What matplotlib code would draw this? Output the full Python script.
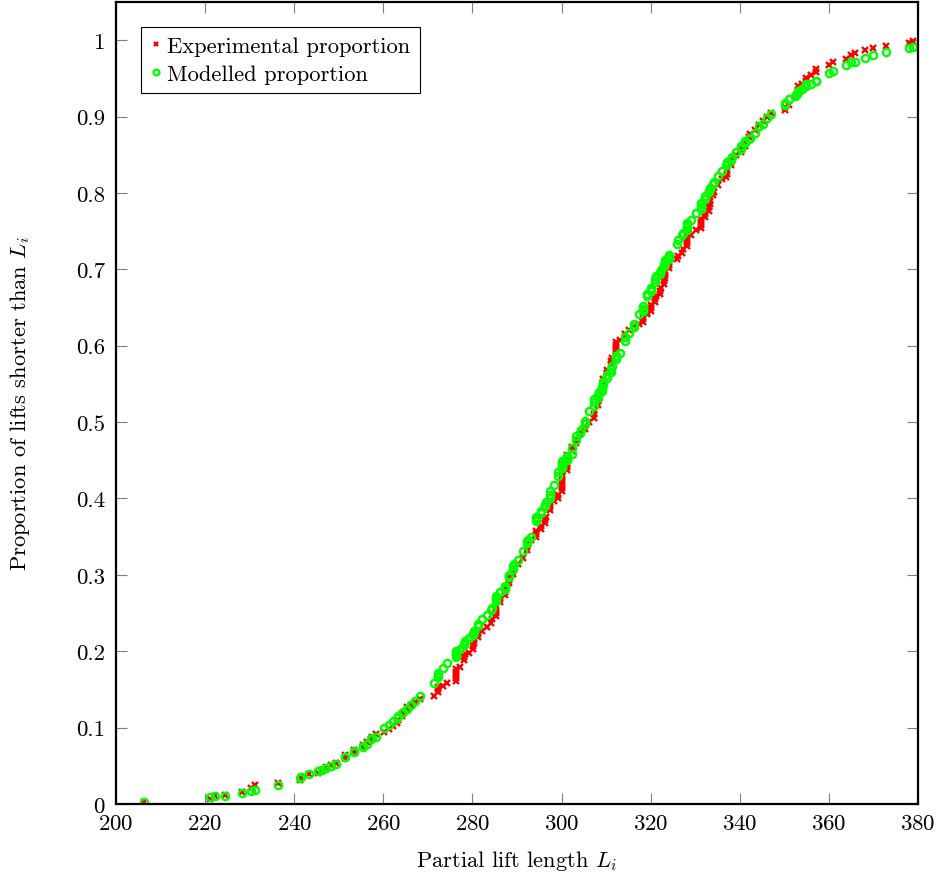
import matplotlib
matplotlib.use("Agg")
import matplotlib.pyplot as plt
from matplotlib.ticker import FuncFormatter

plt.rcParams['font.family'] = ['cmr10', 'DejaVu Serif']
plt.rcParams['mathtext.fontset'] = 'cm'
plt.rcParams['axes.formatter.use_mathtext'] = True

# partial lift lengths L_i (sorted), shared by both series
lift_length = [
    206.3, 221.2, 222.3, 224.4, 228.2, 230.3, 231.2, 236.3, 241.4, 241.6,
    243.3, 245.3, 246.2, 247.2, 248.2, 249.3, 251.4, 251.4, 253.4, 253.4,
    255.4, 255.4, 256.4, 257.3, 257.4, 258.4, 260.2, 261.3, 262.2, 263.1,
    263.3, 264.2, 264.3, 265.2, 265.3, 266.2, 267.2, 268.2, 271.3, 272.2,
    272.2, 272.3, 273.3, 274.2, 276.3, 276.3, 276.3, 276.4, 276.4, 277.2,
    278.2, 278.2, 278.3, 279.2, 280.2, 280.2, 280.3, 280.3, 281.2, 281.2,
    282.2, 283.2, 284.2, 284.3, 285.2, 285.2, 285.2, 285.3, 286.2, 286.2,
    287.2, 287.2, 287.3, 288.2, 288.2, 288.3, 289.2, 289.2, 289.3, 290.3,
    291.4, 292.3, 292.3, 292.4, 293.2, 294.2, 294.2, 294.3, 295.3, 295.3,
    296.3, 296.3, 296.4, 297.3, 297.3, 297.4, 298.2, 299.1, 299.2, 300.1,
    300.1, 300.1, 300.1, 300.2, 300.2, 300.2, 301.2, 301.2, 301.2, 301.2,
    301.3, 301.3, 302.3, 302.4, 303.2, 303.3, 304.2, 304.3, 305.2, 305.3,
    306.2, 307.2, 307.2, 307.3, 308.2, 308.2, 308.3, 309.1, 309.1, 309.2,
    309.2, 309.2, 310.1, 310.2, 311.2, 311.2, 311.3, 312.1, 312.1, 312.2,
    312.2, 312.2, 313.2, 314.2, 314.3, 315.2, 316.2, 316.3, 317.3, 318.2,
    318.2, 318.3, 319.1, 319.2, 320.0, 320.1, 320.1, 321.0, 321.0, 321.1,
    322.1, 322.1, 322.2, 323.0, 323.0, 323.1, 323.1, 323.1, 324.0, 324.1,
    324.2, 326.0, 326.1, 327.1, 327.2, 328.1, 328.1, 328.2, 328.2, 329.1,
    330.2, 331.2, 331.2, 331.3, 331.3, 332.2, 332.2, 333.1, 333.1, 333.2,
    333.2, 334.0, 334.1, 335.1, 336.1, 337.0, 337.1, 337.1, 338.1, 338.1,
    338.2, 339.2, 340.3, 340.3, 341.2, 341.2, 342.1, 342.2, 343.3, 344.2,
    345.1, 346.1, 347.1, 350.1, 350.2, 351.1, 352.3, 352.8, 353.0, 353.0,
    353.9, 354.9, 354.9, 356.0, 357.0, 357.0, 360.0, 361.0, 363.9, 365.0,
    365.9, 368.0, 370.0, 372.9, 377.9, 378.9,
]

# experimental proportion of lifts shorter than L_i
exp_prop = [
    0.002, 0.007, 0.010, 0.012, 0.016, 0.021, 0.025, 0.028, 0.032, 0.035,
    0.039, 0.041, 0.045, 0.048, 0.051, 0.054, 0.060, 0.064, 0.068, 0.071,
    0.075, 0.077, 0.081, 0.085, 0.088, 0.091, 0.094, 0.098, 0.102, 0.106,
    0.110, 0.115, 0.119, 0.123, 0.127, 0.130, 0.134, 0.137, 0.142, 0.146,
    0.150, 0.153, 0.155, 0.158, 0.161, 0.165, 0.169, 0.173, 0.177, 0.180,
    0.188, 0.192, 0.196, 0.198, 0.203, 0.207, 0.211, 0.215, 0.218, 0.222,
    0.226, 0.232, 0.237, 0.242, 0.246, 0.250, 0.254, 0.258, 0.264, 0.268,
    0.273, 0.277, 0.281, 0.289, 0.293, 0.297, 0.301, 0.305, 0.309, 0.314,
    0.322, 0.333, 0.337, 0.340, 0.345, 0.350, 0.353, 0.357, 0.360, 0.364,
    0.368, 0.372, 0.376, 0.385, 0.389, 0.393, 0.397, 0.400, 0.404, 0.410,
    0.414, 0.418, 0.422, 0.426, 0.430, 0.434, 0.437, 0.441, 0.445, 0.449,
    0.453, 0.457, 0.462, 0.467, 0.472, 0.476, 0.484, 0.488, 0.491, 0.495,
    0.500, 0.506, 0.510, 0.514, 0.523, 0.527, 0.531, 0.540, 0.544, 0.548,
    0.552, 0.556, 0.564, 0.568, 0.576, 0.580, 0.584, 0.589, 0.593, 0.597,
    0.601, 0.605, 0.608, 0.612, 0.615, 0.620, 0.624, 0.627, 0.629, 0.631,
    0.635, 0.638, 0.641, 0.643, 0.646, 0.650, 0.653, 0.657, 0.661, 0.665,
    0.668, 0.672, 0.676, 0.681, 0.685, 0.689, 0.693, 0.697, 0.702, 0.706,
    0.710, 0.713, 0.717, 0.721, 0.726, 0.730, 0.734, 0.738, 0.742, 0.745,
    0.751, 0.754, 0.758, 0.762, 0.766, 0.769, 0.773, 0.777, 0.781, 0.785,
    0.789, 0.797, 0.801, 0.811, 0.818, 0.821, 0.825, 0.829, 0.836, 0.840,
    0.844, 0.850, 0.853, 0.857, 0.862, 0.866, 0.873, 0.877, 0.883, 0.889,
    0.894, 0.899, 0.905, 0.908, 0.912, 0.915, 0.925, 0.930, 0.935, 0.940,
    0.942, 0.947, 0.951, 0.955, 0.958, 0.962, 0.968, 0.972, 0.975, 0.980,
    0.983, 0.987, 0.990, 0.993, 0.996, 0.999,
]

# modelled proportion at the same L_i
mod_prop = [
    0.003, 0.009, 0.010, 0.011, 0.014, 0.017, 0.018, 0.025, 0.034, 0.035,
    0.039, 0.043, 0.045, 0.047, 0.050, 0.053, 0.061, 0.062, 0.068, 0.069,
    0.075, 0.076, 0.078, 0.085, 0.086, 0.088, 0.099, 0.104, 0.108, 0.112,
    0.115, 0.119, 0.121, 0.124, 0.125, 0.130, 0.135, 0.142, 0.158, 0.166,
    0.169, 0.172, 0.178, 0.184, 0.193, 0.195, 0.197, 0.199, 0.200, 0.203,
    0.208, 0.210, 0.213, 0.217, 0.221, 0.223, 0.225, 0.226, 0.233, 0.235,
    0.242, 0.247, 0.254, 0.257, 0.266, 0.268, 0.270, 0.272, 0.277, 0.278,
    0.282, 0.284, 0.286, 0.297, 0.299, 0.300, 0.308, 0.311, 0.314, 0.320,
    0.331, 0.342, 0.344, 0.346, 0.350, 0.370, 0.373, 0.376, 0.381, 0.384,
    0.390, 0.392, 0.395, 0.400, 0.405, 0.410, 0.417, 0.430, 0.434, 0.440,
    0.441, 0.443, 0.444, 0.446, 0.447, 0.449, 0.450, 0.451, 0.452, 0.453,
    0.454, 0.455, 0.458, 0.466, 0.476, 0.482, 0.486, 0.490, 0.497, 0.502,
    0.515, 0.521, 0.526, 0.530, 0.532, 0.536, 0.539, 0.541, 0.545, 0.548,
    0.550, 0.552, 0.558, 0.562, 0.565, 0.570, 0.574, 0.583, 0.584, 0.585,
    0.586, 0.587, 0.591, 0.606, 0.611, 0.617, 0.624, 0.628, 0.641, 0.646,
    0.648, 0.652, 0.665, 0.668, 0.672, 0.674, 0.676, 0.683, 0.687, 0.691,
    0.694, 0.697, 0.699, 0.704, 0.706, 0.708, 0.710, 0.712, 0.713, 0.716,
    0.719, 0.733, 0.738, 0.745, 0.748, 0.752, 0.755, 0.758, 0.760, 0.764,
    0.774, 0.779, 0.782, 0.785, 0.787, 0.792, 0.796, 0.801, 0.803, 0.805,
    0.807, 0.812, 0.814, 0.822, 0.829, 0.836, 0.838, 0.840, 0.843, 0.845,
    0.847, 0.854, 0.857, 0.861, 0.866, 0.868, 0.870, 0.872, 0.879, 0.887,
    0.890, 0.898, 0.904, 0.915, 0.918, 0.923, 0.927, 0.930, 0.932, 0.933,
    0.936, 0.940, 0.942, 0.943, 0.946, 0.947, 0.957, 0.960, 0.967, 0.971,
    0.972, 0.977, 0.980, 0.984, 0.990, 0.991,
]

y_ticks = [0, 0.1, 0.2, 0.3, 0.4, 0.5, 0.6, 0.7, 0.8, 0.9, 1]
x_ticks = [200, 220, 240, 260, 280, 300, 320, 340, 360, 380]

fig = plt.figure(figsize=(9.41, 8.79), dpi=100)
ax = fig.add_axes([0.1233, 0.0842, 0.8523, 0.9124])

ax.plot(lift_length, exp_prop, linestyle='None', marker='x', ms=3.8, mew=1.7,
        color='#ff0000', label='Experimental proportion')
ax.plot(lift_length, mod_prop, linestyle='None', marker='o', ms=5.2, mew=1.7,
        mfc='none', mec='#00ff00', label='Modelled proportion')

ax.set_xlim(200, 380)
ax.set_ylim(0, 1.05)
ax.set_xticks(x_ticks)
ax.set_yticks(y_ticks)
ax.yaxis.set_major_formatter(FuncFormatter(lambda v, p: f"{v:g}"))
ax.tick_params(direction='in', length=8, width=0.8, color='#7f7f7f',
               top=True, right=True, labelsize=16.5)
ax.tick_params(axis='x', pad=7)
ax.tick_params(axis='y', pad=8)
for s in ax.spines.values():
    s.set_linewidth(1.6)

ax.set_xlabel('Partial lift length $L_i$', fontsize=16.2)
ax.set_ylabel('Proportion of lifts shorter than $L_i$', fontsize=16.2)
ax.xaxis.set_label_coords(0.5, -0.055)
ax.yaxis.set_label_coords(-0.105, 0.5)

leg = ax.legend(loc='upper left', bbox_to_anchor=(0.031, 0.969), borderaxespad=0,
                fancybox=False, edgecolor='black', framealpha=1, fontsize=16.2,
                handlelength=0.5, handletextpad=0.25, borderpad=0.42,
                labelspacing=0.36, markerscale=0.8)
leg.get_frame().set_linewidth(0.8)

fig.savefig('out.png', dpi=100)
